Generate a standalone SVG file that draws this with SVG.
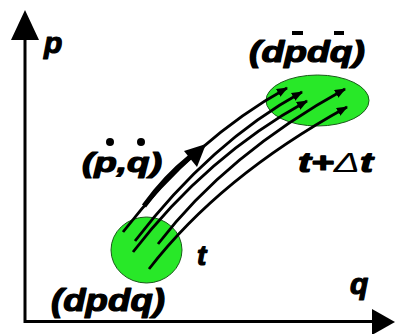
<svg xmlns="http://www.w3.org/2000/svg" width="395" height="334" viewBox="0 0 395 334">
<defs>
<style>
.lbl{font-family:"Liberation Sans",Arial,sans-serif;font-weight:bold;font-style:italic;fill:#000;stroke:#000;stroke-width:1.2;stroke-linejoin:round}
.ax{stroke:#000;stroke-width:3;fill:none}
.fl{stroke:#000;stroke-width:2.8;fill:none;marker-end:url(#ah)}
.blob{fill:#28e828;stroke:#1a5a1a;stroke-width:1}
</style>
<marker id="ah" viewBox="0 0 10 8" refX="9" refY="4" markerWidth="4" markerHeight="3.3" orient="auto" markerUnits="strokeWidth">
<path d="M0,0 L10,4 L0,8 Z" fill="#000"/>
</marker>
</defs>
<rect width="395" height="334" fill="#fff"/>
<g id="axes">
<path class="ax" d="M25,38 V321.5 H374"/>
<path d="M25,10 L39,40 L11,40 Z" fill="#000"/>
<path d="M395,322 L372,309 L372,335 Z" fill="#000"/>
<text class="lbl" x="44" y="53" font-size="30">p</text>
<text class="lbl" x="350" y="294" font-size="30">q</text>
</g>
<g id="state-t">
<ellipse class="blob" cx="146.5" cy="250" rx="35.5" ry="33"/>
<text class="lbl" x="197" y="265" font-size="28">t</text>
<text class="lbl" x="51" y="311" font-size="31" textLength="114" lengthAdjust="spacingAndGlyphs">(dpdq)</text>
</g>
<g id="state-t-dt">
<ellipse class="blob" cx="317.5" cy="100.5" rx="51.5" ry="25.5"/>
<text class="lbl" x="298" y="172" font-size="27" textLength="75" lengthAdjust="spacingAndGlyphs">t+<tspan font-weight="normal" stroke-width="0">Δ</tspan>t</text>
<text class="lbl" x="249" y="62" font-size="30" textLength="116" lengthAdjust="spacingAndGlyphs">(dpdq)</text>
<rect x="292" y="31" width="11" height="4" fill="#000"/>
<rect x="334" y="31" width="10" height="4" fill="#000"/>
</g>
<g id="connectors">
<path class="fl" d="M123,232 Q195,139 287,88"/>
<path class="fl" d="M135,241 Q211,142 302,92"/>
<path class="fl" d="M133,252 Q207,156 307,101"/>
<path class="fl" d="M158,244 Q227,154 345,89"/>
<path class="fl" d="M149,269 Q220,177 347,107"/>
</g>
<g id="velocity">
<path d="M144,206 Q165,177 190,157" stroke="#000" stroke-width="5" fill="none"/>
<path d="M206,144 L184,151 L197,167 Z" fill="#000"/>
<text class="lbl" x="82" y="172" font-size="27" textLength="80" lengthAdjust="spacingAndGlyphs">(p,q)</text>
<circle cx="110" cy="142" r="4" fill="#000"/>
<circle cx="141" cy="142" r="4" fill="#000"/>
</g>
</svg>
